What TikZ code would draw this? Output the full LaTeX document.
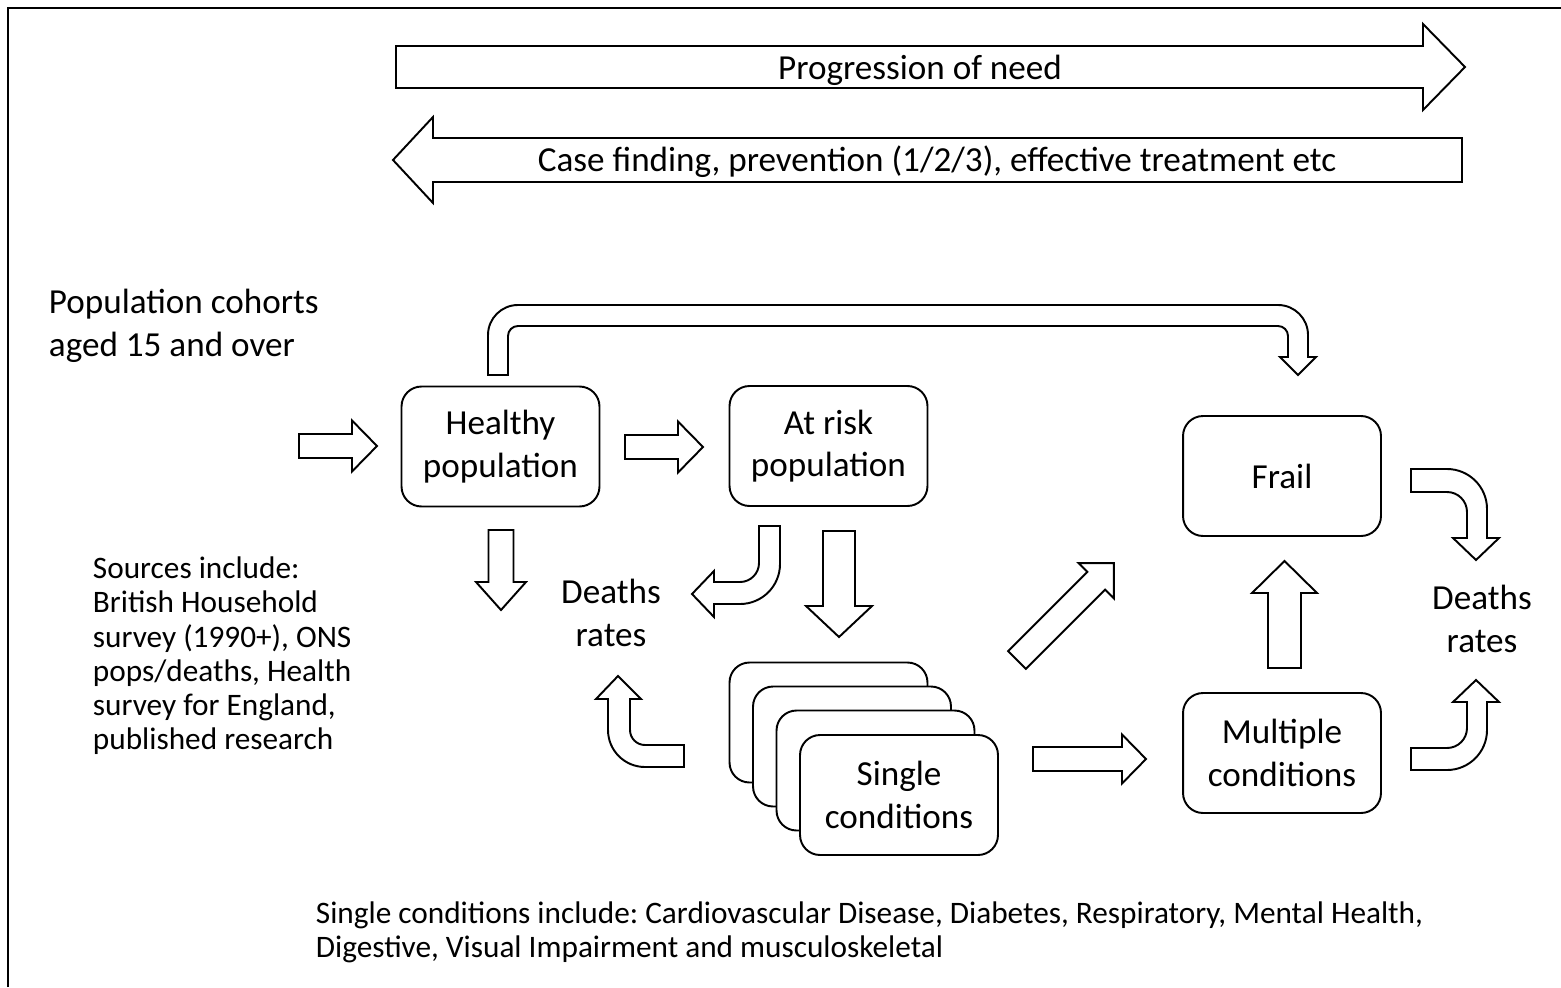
\documentclass[tikz,border=0pt]{standalone}
\usepackage{fontspec}
\setmainfont{Carlito}
\frenchspacing
\newcommand{\largetxt}{\fontsize{20}{24.2}\selectfont}
\newcommand{\smalltxt}{\fontsize{17.8}{19.5}\selectfont}
\newcommand{\fatarrow}[6]{%
  \draw[fat, shift={#1}, rotate=#2] (0,-#4) -- ({#3-#6},-#4) -- ({#3-#6},-#5) -- (#3,0)
    -- ({#3-#6},#5) -- ({#3-#6},#4) -- (0,#4) -- cycle;}
\begin{document}
\begin{tikzpicture}[
        x=0.02cm, y=-0.02cm, line width=1.1pt,
        box/.style={draw, fill=white, rounded corners=0.4cm, minimum width=3.96cm, minimum height=2.4cm, align=center, font=\largetxt},
        lbl/.style={align=center, font=\largetxt, inner sep=0pt},
        side/.style={align=left, font=\largetxt, inner sep=0pt, anchor=west},
        note/.style={align=left, font=\smalltxt, inner sep=0pt, anchor=west},
        fat/.style={draw, fill=white, line join=miter}
        ]
        \useasboundingbox (0,0) rectangle (1561,987);
        \draw (8,987) -- (8,8) -- (1561,8);
        % top banners
        \fatarrow{(396,67)}{0}{1069}{21}{43}{42}
        \node[lbl] (progress) at (920,70) {Progression of need};
        \fatarrow{(1462,160)}{180}{1069}{22}{43}{40}
        \node[lbl] (casefind) at (937,162) {Case finding, prevention (1/2/3), effective treatment etc};
        \node[side] (cohorts) at (48,326) {Population cohorts\\aged 15 and over};
        % states
        \node[box] (healthy) at (500.5,446.5) {Healthy\\population};
        \node[box] (atrisk) at (828.5,446) {At risk\\population};
        \node[box] (frail) at (1282,476) {Frail};
        \node[box] (multiple) at (1282,753) {Multiple\\conditions};
        \foreach \i in {0,1,2}
            \node[box] (single\i) at ({828.5+23.5*\i},{722.5+24*\i}) {};
        \node[box] (single) at (899,795) {Single\\conditions};
        \node[lbl] (deathsL) at (611,613) {Deaths\\rates};
        \node[lbl] (deathsR) at (1482,619) {Deaths\\rates};
        \node[note] (sources) at (92,656) {Sources include:\\British Household\\survey (1990+), ONS\\pops/deaths, Health\\survey for England,\\published research};
        \node[note] (examples) at (315,932) {Single conditions include: Cardiovascular Disease, Diabetes, Respiratory, Mental Health,\\Digestive, Visual Impairment and musculoskeletal};
        % straight arrows
        \fatarrow{(299,446)}{0}{78}{12}{25.5}{25}
        \fatarrow{(625,447)}{0}{78}{12}{25.5}{25}
        \fatarrow{(501,530)}{-90}{80}{12.5}{25}{28}
        \fatarrow{(839,531)}{-90}{106}{16}{33}{31}
        \fatarrow{(1284.5,668)}{90}{107}{16.5}{32.5}{32}
        \fatarrow{(1033,759)}{0}{113}{12}{24.5}{24}
        \fatarrow{(1017,660)}{45}{137}{12.5}{25}{25}
        % bent arrows
        \draw[fat] (488,375) -- (488,335) arc[start angle=180, end angle=270, radius=30] -- (1278,305)
            arc[start angle=270, end angle=360, radius=30] -- (1308,357) -- (1316,357) -- (1298,375)
            -- (1280,357) -- (1288,357) -- (1288,336) arc[start angle=0, end angle=-90, radius=10]
            -- (518,326) arc[start angle=270, end angle=180, radius=10] -- (508,375) -- cycle;
        \draw[fat] (759,526) -- (759,563) arc[start angle=0, end angle=90, radius=19] -- (714,582)
            -- (714,571) -- (692,594) -- (714,617) -- (714,604) -- (740,604)
            arc[start angle=90, end angle=0, radius=40] -- (780,526) -- cycle;
        \draw[fat] (684,745) -- (645,745) arc[start angle=90, end angle=180, radius=15] -- (630,699)
            -- (641,699) -- (618,676) -- (596,699) -- (608,699) -- (608,730)
            arc[start angle=180, end angle=90, radius=37] -- (684,767) -- cycle;
        \draw[fat] (1411,469) -- (1447,469) arc[start angle=-90, end angle=0, radius=40] -- (1487,538)
            -- (1499,538) -- (1476,560) -- (1453,538) -- (1467,538) -- (1467,512)
            arc[start angle=0, end angle=-90, radius=20] -- (1411,492) -- cycle;
        \draw[fat] (1411,770) -- (1447,770) arc[start angle=90, end angle=0, radius=40] -- (1487,702)
            -- (1499,702) -- (1476,680) -- (1453,702) -- (1467,702) -- (1467,728)
            arc[start angle=0, end angle=90, radius=20] -- (1411,748) -- cycle;
\end{tikzpicture}
\end{document}
